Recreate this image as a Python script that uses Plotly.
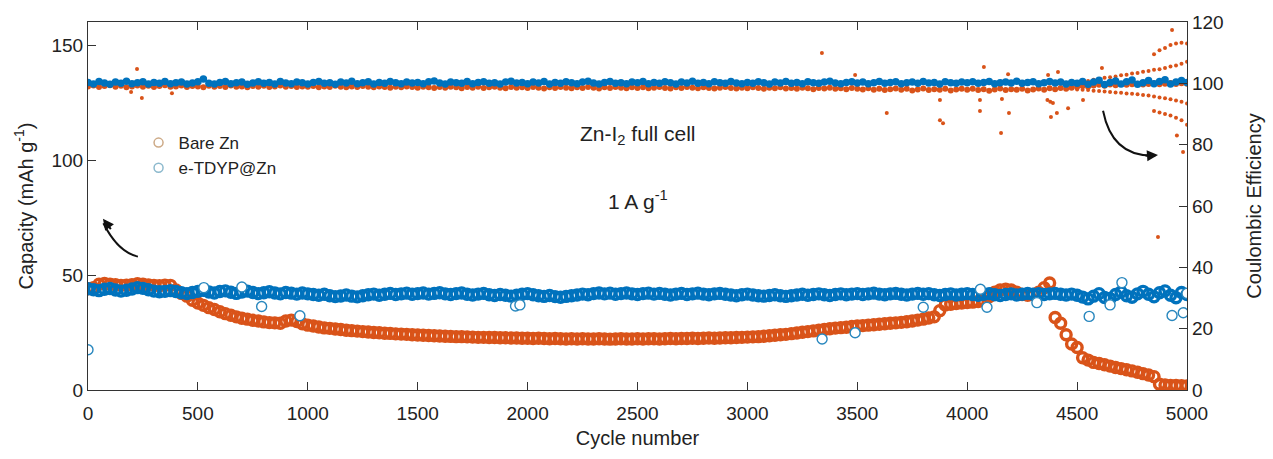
import plotly.graph_objects as go

# ---------------- data ----------------
cycles = list(range(0, 5001, 25))

bare_cap = [
    44.0, 44.5, 46.0, 46.3, 46.0, 45.8, 45.5, 45.6, 45.8, 46.2, 46.0, 45.7, 45.5, 45.3, 45.6, 45.5, 43.5, 42.0, 40.8, 39.0,
    37.8, 36.8, 35.8, 35.0, 34.0, 33.2, 32.5, 31.8, 31.2, 30.8, 30.3, 30.0, 29.6, 29.3, 29.2, 29.0, 30.0, 30.4, 29.8, 28.8,
    28.2, 27.8, 27.4, 27.0, 26.8, 26.5, 26.3, 26.0, 25.8, 25.6, 25.4, 25.2, 25.0, 24.9, 24.7, 24.6, 24.4, 24.3, 24.2, 24.0,
    23.9, 23.8, 23.7, 23.6, 23.5, 23.4, 23.3, 23.2, 23.2, 23.1, 23.0, 22.9, 22.9, 22.8, 22.8, 22.7, 22.7, 22.6, 22.6, 22.5,
    22.5, 22.4, 22.5, 22.4, 22.3, 22.4, 22.3, 22.2, 22.3, 22.2, 22.3, 22.2, 22.2, 22.3, 22.2, 22.1, 22.2, 22.3, 22.2, 22.2,
    22.3, 22.2, 22.3, 22.3, 22.2, 22.3, 22.4, 22.3, 22.4, 22.4, 22.5, 22.4, 22.5, 22.6, 22.5, 22.6, 22.7, 22.7, 22.8, 22.9,
    23.0, 23.1, 23.2, 23.4, 23.6, 23.8, 24.0, 24.2, 24.5, 24.8, 25.1, 25.4, 25.7, 26.0, 26.3, 26.6, 26.9, 27.1, 27.3, 27.6,
    27.8, 28.0, 28.2, 28.4, 28.6, 28.8, 29.0, 29.2, 29.4, 29.7, 30.0, 30.4, 30.8, 31.3, 31.8, 34.5, 37.0, 37.3, 37.6, 37.8,
    38.0, 38.2, 38.5, 38.8, 40.5, 42.5, 43.5, 43.8, 43.5, 42.5, 41.5, 41.2, 41.5, 42.5, 44.5, 46.5, 31.5, 29.0, 24.0, 20.0,
    18.5, 14.0, 13.0, 12.0, 11.5, 11.0, 10.4, 9.8, 9.3, 8.8, 8.3, 7.7, 7.1, 6.5, 5.8, 2.5, 2.2, 2.0, 2.0, 1.9,
    1.8,
]

tdyp_cap = [
    44.0, 43.6, 43.2, 43.8, 44.1, 43.5, 43.0, 43.4, 43.9, 44.5, 44.2, 43.6, 43.0, 42.7, 42.9, 43.2, 42.8, 42.3, 41.9, 42.4,
    42.9, 43.3, 42.6, 42.2, 42.8, 43.1, 42.5, 42.0, 42.6, 43.0, 42.4, 41.9, 42.3, 42.7, 42.2, 41.8, 42.4, 42.1, 41.7, 42.2,
    41.8, 41.5, 41.2, 41.6, 41.0, 40.6, 40.9, 41.3, 40.8, 40.5, 41.0, 41.4, 41.7, 41.2, 41.6, 42.0, 41.5, 41.8, 42.1, 41.6,
    41.9, 42.2, 41.7, 42.0, 42.3, 41.8, 41.5, 41.9, 42.2, 41.6, 41.3, 41.7, 42.0, 41.4, 41.1, 41.5, 41.2, 40.8, 41.2, 41.6,
    41.9, 41.4, 41.0, 40.7, 41.1, 40.6, 40.3, 40.7, 41.0, 41.3, 41.7, 41.4, 41.9, 42.2, 41.8, 42.1, 41.6, 41.9, 42.2, 41.8,
    41.5, 41.9, 42.1, 41.7, 42.0, 41.6, 41.3, 41.7, 42.0, 41.5, 41.8, 42.1, 41.7, 41.4, 41.8, 42.0, 41.6, 41.3, 41.0, 41.4,
    41.7, 41.3, 41.0, 40.8, 41.1, 41.4, 41.0, 40.7, 41.0, 41.3, 41.6, 41.2, 41.5, 41.8, 41.4, 41.1, 41.5, 41.8, 41.4, 41.7,
    41.9, 41.5, 41.8, 42.1, 41.7, 41.4, 41.8, 42.0, 41.6, 41.3, 41.7, 42.0, 41.6, 41.9, 41.4, 41.1, 41.5, 41.8, 41.3, 41.6,
    41.9, 41.5, 41.2, 41.6, 41.9, 41.4, 41.1, 41.5, 41.8, 41.3, 41.6, 42.0, 41.6, 41.9, 41.5, 41.8, 42.0, 41.6, 41.3, 41.7,
    41.2, 40.4, 39.6, 40.8, 41.9, 40.2, 39.8, 41.5, 42.6, 41.0, 40.3, 41.8, 42.9, 41.6, 40.5, 42.3, 43.1, 41.2, 40.1, 42.4,
    41.5,
]

# isolated e-TDYP@Zn capacity points
tdyp_cap_extra_x = [0, 527, 700, 790, 964, 1945, 1965, 3340, 3490, 3800, 4060, 4090, 4317, 4555, 4650, 4704, 4932, 4983, 5000]
tdyp_cap_extra_y = [17.5, 44.5, 44.8, 36.3, 32.3, 36.5, 37.0, 22.2, 24.9, 36.0, 43.8, 36.0, 38.0, 32.0, 37.0, 46.7, 32.4, 33.6, 42.0]

bare_ce = [
    99.0, 99.3, 98.8, 99.1, 99.4, 98.9, 99.2, 98.7, 99.0, 99.3, 98.9, 99.2, 98.8, 99.1, 99.4, 98.9, 99.0, 99.3, 98.8, 99.1,
    99.0, 98.7, 99.2, 98.9, 99.1, 98.8, 99.3, 98.9, 99.0, 98.7, 99.1, 98.9, 99.2, 98.8, 99.0, 99.3, 98.9, 99.1, 98.8, 99.0,
    98.9, 99.1, 98.7, 99.0, 98.8, 99.2, 98.9, 98.7, 99.0, 98.8, 99.1, 98.9, 98.7, 99.0, 98.8, 98.6, 98.9, 98.7, 99.0, 98.8,
    98.6, 98.9, 98.7, 98.5, 98.8, 98.6, 98.9, 98.7, 98.4, 98.8, 98.6, 98.9, 98.5, 98.7, 98.9, 98.6, 98.4, 98.8, 98.6, 98.7,
    98.5, 98.8, 98.6, 98.3, 98.7, 98.5, 98.8, 98.6, 98.4, 98.7, 98.5, 98.8, 98.6, 98.3, 98.7, 98.5, 98.8, 98.6, 98.4, 98.7,
    98.5, 98.7, 98.4, 98.6, 98.8, 98.5, 98.3, 98.7, 98.5, 98.8, 98.6, 98.4, 98.7, 98.5, 98.3, 98.6, 98.8, 98.5, 98.3, 98.6,
    98.4, 98.7, 98.5, 98.2, 98.6, 98.4, 98.7, 98.3, 98.5, 98.2, 98.6, 98.4, 98.1, 98.5, 98.3, 98.6, 98.2, 98.4, 98.1, 98.5,
    98.2, 98.0, 98.4, 97.9, 98.2, 97.8, 98.1, 98.3, 97.9, 98.2, 97.7, 98.0, 98.3, 97.8, 98.1, 97.9, 98.2, 97.7, 98.0, 98.2,
    97.9, 98.2, 97.8, 98.1, 97.6, 98.0, 98.3, 97.8, 98.1, 97.9, 98.2, 97.7, 98.0, 98.3, 97.9, 98.4, 98.1, 98.5, 98.2, 98.6,
    98.8, 99.1, 98.9, 99.3, 99.5, 99.2, 99.6, 99.4, 99.8, 99.5, 99.7, 99.9, 99.6, 99.8, 100.0, 99.7, 99.9, 100.1, 99.8, 100.0,
    99.9,
]

# diverging Bare Zn CE branches near the end, plus isolated points
bare_ce_extra_x = [
    4450, 4475, 4500, 4525, 4550, 4575, 4600, 4625, 4650, 4675, 4700, 4725, 4750, 4775, 4800, 4825, 4850, 4875, 4900, 4925, 4950, 4975, 5000,
    4500, 4525, 4550, 4575, 4600, 4625, 4650, 4675, 4700, 4725, 4750, 4775, 4800, 4825, 4850, 4875, 4900, 4925, 4950, 4975, 5000,
    4850, 4875, 4900, 4925, 4950, 4975, 5000,
    4850, 4875, 4900, 4925, 4950, 4975, 5000,
    196, 223, 245, 382, 3339, 3490, 3634, 3876, 3890, 3876, 4058, 4058, 4076, 4158, 4154, 4186, 4190,
    4365, 4378, 4390, 4368, 4413, 4381, 4408, 4459, 4527, 4613, 4954, 4982, 4868, 4932,
]
bare_ce_extra_y = [
    99.8, 100.1, 100.3, 100.6, 100.8, 101.2, 101.4, 101.8, 102.0, 102.2, 102.6, 102.8, 103.2, 103.4, 103.8, 104.0, 104.4, 104.6, 105.0, 105.5, 105.8, 106.4, 107.0,
    98.0, 97.9, 97.8, 97.6, 97.5, 97.3, 97.2, 97.0, 96.9, 96.7, 96.6, 96.4, 96.2, 96.0, 95.7, 95.4, 95.1, 94.8, 94.4, 94.0, 93.4,
    109.5, 110.8, 111.5, 112.5, 113.0, 113.2, 113.0,
    91.0, 90.5, 90.0, 89.5, 88.8, 88.0, 86.5,
    97.2, 104.7, 95.2, 96.8, 109.9, 102.7, 90.3, 88.0, 87.0, 94.6, 94.6, 91.0, 105.3, 94.9, 83.8, 103.0, 90.3,
    94.6, 94.0, 93.6, 102.7, 103.7, 89.0, 90.3, 91.9, 94.6, 105.0, 83.0, 77.6, 49.9, 117.4,
]

tdyp_ce = [
    100.3, 99.8, 100.6, 100.1, 99.7, 100.4, 100.0, 100.7, 99.9, 100.2, 100.5, 99.8, 100.3, 100.0, 100.6, 99.9, 100.2, 100.4, 99.8, 100.1,
    100.5, 101.4, 100.0, 99.8, 100.3, 100.6, 99.9, 100.2, 100.4, 99.7, 100.1, 100.5, 100.0, 100.3, 99.8, 100.6, 100.1, 99.9, 100.4, 100.2,
    99.8, 100.3, 100.6, 100.0, 100.2, 99.7, 100.4, 100.1, 100.7, 99.9, 100.2, 100.5, 99.8, 100.3, 100.0, 100.6, 100.2, 99.9, 100.4, 100.1,
    100.3, 99.9, 100.5, 100.8, 100.1, 99.8, 100.4, 100.2, 100.0, 100.6, 99.9, 100.3, 100.5, 100.0, 100.2, 99.8, 100.4, 100.7, 100.1, 100.3,
    99.9, 100.4, 100.1, 100.6, 99.8, 100.3, 100.0, 100.5, 100.2, 99.9, 100.4, 100.7, 100.1, 99.8, 100.3, 100.6, 100.0, 100.2, 99.9, 100.4,
    100.2, 100.6, 99.9, 100.3, 100.0, 100.5, 100.2, 99.8, 100.4, 100.1, 100.7, 100.0, 100.3, 99.9, 100.5, 100.2, 100.0, 100.6, 100.1, 99.9,
    100.3, 100.0, 100.5, 100.2, 99.8, 100.4, 100.1, 100.6, 100.0, 100.3, 99.9, 100.5, 100.2, 100.0, 100.4, 100.7, 100.1, 99.9, 100.3, 100.5,
    100.1, 100.4, 99.9, 100.2, 100.6, 100.0, 100.3, 100.5, 99.9, 100.2, 100.4, 100.0, 100.6, 100.1, 100.3, 99.8, 100.5, 100.2, 100.0, 100.4,
    100.2, 100.5, 100.0, 100.3, 100.6, 99.9, 100.2, 100.4, 100.1, 100.7, 100.0, 100.3, 100.5, 99.9, 100.2, 100.6, 100.1, 100.4, 99.8, 100.3,
    100.0, 100.6, 99.7, 100.4, 101.0, 99.6, 100.3, 100.8, 99.8, 100.5, 101.1, 99.7, 100.2, 100.9, 99.9, 100.6, 101.2, 99.8, 100.4, 100.9,
    100.3,
]

x_ticks = [0, 500, 1000, 1500, 2000, 2500, 3000, 3500, 4000, 4500, 5000]
cap_ticks = [0, 50, 100, 150]
ce_ticks = [0, 20, 40, 60, 80, 100, 120]

ORANGE = "rgb(217,83,25)"
BLUE = "rgb(0,114,189)"
BLUE_RING = "rgb(40,135,190)"
FONT = "Liberation Sans, Arial, Helvetica, sans-serif"

fig = go.Figure()

# capacity (left axis)
fig.add_trace(go.Scatter(
    x=cycles, y=bare_cap, mode="markers", name="Bare Zn", showlegend=False,
    marker=dict(symbol="circle-open", size=10, color=ORANGE, line=dict(width=3.4, color=ORANGE)),
))
fig.add_trace(go.Scatter(
    x=cycles, y=tdyp_cap, mode="markers", name="e-TDYP@Zn", showlegend=False,
    marker=dict(symbol="circle-open", size=10, color=BLUE, line=dict(width=3.4, color=BLUE)),
))
fig.add_trace(go.Scatter(
    x=tdyp_cap_extra_x, y=tdyp_cap_extra_y, mode="markers", showlegend=False,
    marker=dict(symbol="circle", size=10, color="white", line=dict(width=1.4, color=BLUE_RING)),
))

# Coulombic efficiency (right axis)
fig.add_trace(go.Scatter(
    x=cycles, y=bare_ce, mode="markers", yaxis="y2", showlegend=False,
    marker=dict(symbol="circle", size=6, color=ORANGE),
))
fig.add_trace(go.Scatter(
    x=bare_ce_extra_x, y=bare_ce_extra_y, mode="markers", yaxis="y2", showlegend=False,
    marker=dict(symbol="circle", size=4, color=ORANGE),
))
fig.add_trace(go.Scatter(
    x=cycles, y=tdyp_ce, mode="markers", yaxis="y2", showlegend=False,
    marker=dict(symbol="circle", size=7.5, color=BLUE),
))

# legend entries (pale open circles as in the figure)
fig.add_trace(go.Scatter(
    x=[None], y=[None], mode="markers", name="Bare Zn",
    marker=dict(symbol="circle-open", size=9, color="rgb(205,170,135)", line=dict(width=1.5)),
))
fig.add_trace(go.Scatter(
    x=[None], y=[None], mode="markers", name="e-TDYP@Zn",
    marker=dict(symbol="circle-open", size=9, color="rgb(140,185,205)", line=dict(width=1.5)),
))

axis_common = dict(
    showline=True, linecolor="#333", linewidth=1.2, ticks="inside", ticklen=8,
    tickcolor="#333", tickwidth=1.2, showgrid=False, zeroline=False,
    tickfont=dict(family=FONT, size=19, color="#222"),
)

fig.update_layout(
    width=1273, height=459,
    margin=dict(l=88, r=86, t=22, b=69),
    paper_bgcolor="white", plot_bgcolor="white",
    font=dict(family=FONT, color="#222"),
    xaxis=dict(
        range=[0, 5000], tickvals=x_ticks, mirror="ticks", ticklabelstandoff=6,
        title=dict(text="Cycle number", font=dict(family=FONT, size=20), standoff=8),
        **axis_common,
    ),
    yaxis=dict(
        range=[0, 160], tickvals=cap_ticks,
        title=dict(text="Capacity (mAh g<sup>-1</sup>)", font=dict(family=FONT, size=20), standoff=12),
        **axis_common,
    ),
    yaxis2=dict(
        range=[0, 120], tickvals=ce_ticks, overlaying="y", side="right",
        title=dict(text="Coulombic Efficiency", font=dict(family=FONT, size=20), standoff=24),
        **axis_common,
    ),
    legend=dict(
        x=0.046, y=0.72, xanchor="left", yanchor="top", bgcolor="rgba(0,0,0,0)",
        font=dict(family=FONT, size=17, color="#222"), itemwidth=30, tracegroupgap=2,
    ),
    showlegend=True,
)

# curved arrows (drawn in data coordinates of x / left y axis)
fig.add_shape(type="path", xref="x", yref="y",
              path="M 227,58.0 Q 136,60 70,72.5",
              line=dict(color="#111", width=2))
fig.add_annotation(x=68, y=74.5, xref="x", yref="y", ax=9, ay=12, axref="pixel", ayref="pixel",
                   showarrow=True, arrowhead=2, arrowsize=1.1, arrowwidth=2, arrowcolor="#111", text="")
fig.add_shape(type="path", xref="x", yref="y",
              path="M 4618,121.4 Q 4660,101 4855,102.0",
              line=dict(color="#111", width=2))
fig.add_annotation(x=4868, y=102.2, xref="x", yref="y", ax=-14, ay=1, axref="pixel", ayref="pixel",
                   showarrow=True, arrowhead=2, arrowsize=1.1, arrowwidth=2, arrowcolor="#111", text="")

# text labels
fig.add_annotation(x=0.5, y=0.735, xref="paper", yref="paper", showarrow=False,
                   text="Zn-I<sub>2</sub> full cell", font=dict(family=FONT, size=21, color="#222"))
fig.add_annotation(x=0.5, y=0.515, xref="paper", yref="paper", showarrow=False,
                   text="1 A g<sup>-1</sup>", font=dict(family=FONT, size=21, color="#222"))

fig.write_html("out.html")
